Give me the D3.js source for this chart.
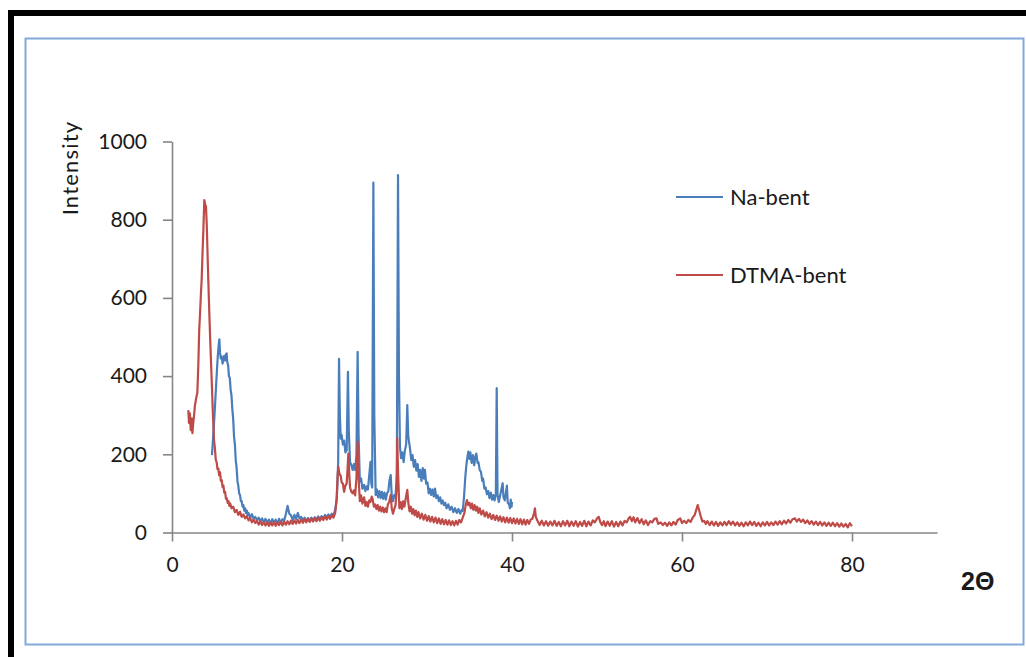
<!DOCTYPE html>
<html>
<head>
<meta charset="utf-8">
<script src="https://cdn.jsdelivr.net/npm/d3@7"></script>
<style>
html,body{margin:0;padding:0;background:#fff;}
svg{display:block;}
text{font-family:Lato,"Open Sans",sans-serif;fill:#1a1a1a;}
</style>
</head>
<body>
<svg id="chart" width="1026" height="657"></svg>
<script>
const xTicks = [0, 20, 40, 60, 80];
const yTicks = [0, 200, 400, 600, 800, 1000];
const seriesNames = ["Na-bent", "DTMA-bent"];

const naBent = [
[4.7,198],[4.8,230],[4.9,265],[5.0,300],[5.1,340],[5.2,380],[5.3,420],[5.4,455],[5.5,480],[5.57,494],[5.65,460],[5.75,445],[5.85,450],[5.95,432],[6.05,441],[6.15,452],[6.25,440],[6.35,456],[6.43,458],[6.5,436],[6.6,428],[6.7,400],[6.8,395],[6.9,365],[7.0,350],[7.1,315],[7.2,290],[7.3,245],[7.4,225],[7.5,185],[7.6,165],[7.7,132],[7.8,120],[7.9,100],[8.0,96],[8.1,80],[8.2,80],[8.3,66],[8.4,70],[8.5,56],[8.6,62],[8.7,50],[8.8,56],[8.9,44],[9.0,50],[9.2,38],[9.4,47],[9.6,35],[9.8,40],[10.0,31],[10.2,38],[10.4,29],[10.6,36],[10.8,26],[11.0,35],[11.2,24],[11.4,33],[11.6,23],[11.8,34],[12.0,24],[12.2,33],[12.4,22],[12.6,35],[12.8,25],[13.0,34],[13.2,30],[13.4,48],[13.6,68],[13.8,48],[14.0,44],[14.2,32],[14.4,45],[14.6,34],[14.8,50],[15.0,36],[15.2,40],[15.4,31],[15.6,38],[15.8,29],[16.0,37],[16.2,30],[16.4,38],[16.6,31],[16.8,39],[17.0,33],[17.2,41],[17.4,35],[17.6,42],[17.8,36],[18.0,45],[18.2,38],[18.4,46],[18.6,40],[18.8,48],[19.0,44],[19.2,58],[19.4,90],[19.55,180],[19.65,444],[19.75,300],[19.85,240],[19.95,250],[20.1,225],[20.25,235],[20.4,205],[20.55,210],[20.7,411],[20.8,260],[20.95,180],[21.1,172],[21.25,160],[21.4,175],[21.55,160],[21.7,200],[21.84,462],[21.95,250],[22.1,130],[22.25,138],[22.4,112],[22.6,122],[22.75,106],[22.9,118],[23.05,110],[23.2,145],[23.35,181],[23.45,125],[23.55,115],[23.69,895],[23.8,300],[23.96,96],[24.1,110],[24.25,90],[24.4,106],[24.55,88],[24.7,104],[24.85,86],[25.0,102],[25.15,84],[25.3,100],[25.45,105],[25.6,135],[25.73,147],[25.85,95],[26.0,80],[26.15,96],[26.3,92],[26.45,150],[26.59,914],[26.7,400],[26.82,219],[26.95,190],[27.1,205],[27.25,180],[27.4,210],[27.55,225],[27.68,326],[27.8,245],[28.0,215],[28.15,185],[28.3,198],[28.45,168],[28.6,185],[28.75,158],[28.9,175],[29.05,142],[29.2,160],[29.35,132],[29.5,165],[29.65,138],[29.76,160],[29.9,125],[30.05,128],[30.2,100],[30.35,112],[30.5,96],[30.65,110],[30.8,92],[30.94,112],[31.1,88],[31.25,95],[31.4,80],[31.55,90],[31.7,74],[31.85,82],[32.0,70],[32.15,76],[32.3,62],[32.5,72],[32.7,58],[32.9,66],[33.1,52],[33.3,62],[33.5,50],[33.7,60],[33.9,48],[34.08,58],[34.2,55],[34.35,90],[34.5,140],[34.6,165],[34.7,185],[34.86,207],[35.0,188],[35.1,205],[35.25,178],[35.4,198],[35.55,172],[35.7,195],[35.8,202],[35.95,178],[36.05,180],[36.2,160],[36.35,155],[36.5,132],[36.6,138],[36.75,112],[36.9,115],[37.05,98],[37.2,106],[37.35,88],[37.5,102],[37.65,84],[37.8,96],[37.95,82],[38.1,98],[38.2,369],[38.3,96],[38.45,78],[38.6,94],[38.75,110],[38.9,126],[39.0,90],[39.15,82],[39.3,104],[39.4,120],[39.5,76],[39.65,72],[39.76,62],[39.85,84],[39.95,66],[40.0,78]
];

const dtmaBent = [
[1.92,313],[2.0,280],[2.1,305],[2.2,262],[2.3,292],[2.4,254],[2.5,280],[2.6,300],[2.7,325],[2.78,335],[2.9,350],[2.98,356],[3.1,430],[3.2,518],[3.3,560],[3.4,610],[3.49,646],[3.6,720],[3.69,774],[3.8,850],[3.9,840],[4.0,833],[4.1,780],[4.16,731],[4.25,660],[4.39,561],[4.5,490],[4.6,430],[4.67,390],[4.8,310],[4.94,237],[5.05,215],[5.15,186],[5.25,180],[5.35,162],[5.45,164],[5.55,146],[5.65,154],[5.75,132],[5.85,134],[5.95,116],[6.05,120],[6.15,102],[6.25,104],[6.35,86],[6.43,88],[6.55,76],[6.65,80],[6.75,68],[6.85,74],[7.0,62],[7.2,66],[7.4,52],[7.6,58],[7.8,45],[8.0,53],[8.2,40],[8.4,46],[8.6,36],[8.8,42],[9.0,31],[9.2,37],[9.4,26],[9.6,33],[9.8,24],[10.0,30],[10.2,20],[10.4,28],[10.6,19],[10.8,27],[11.0,18],[11.2,26],[11.4,17],[11.6,25],[11.8,18],[12.0,27],[12.2,17],[12.4,26],[12.6,19],[12.8,27],[13.0,18],[13.2,28],[13.4,20],[13.6,29],[13.8,21],[14.0,30],[14.2,22],[14.4,31],[14.6,23],[14.8,32],[15.0,24],[15.2,33],[15.4,25],[15.6,34],[15.8,26],[16.0,35],[16.2,27],[16.4,36],[16.6,28],[16.8,37],[17.0,29],[17.2,38],[17.4,30],[17.6,39],[17.8,32],[18.0,41],[18.2,33],[18.4,42],[18.6,35],[18.8,44],[19.0,38],[19.2,50],[19.35,80],[19.5,150],[19.57,168],[19.7,150],[19.85,145],[19.96,128],[20.1,125],[20.25,104],[20.4,120],[20.55,125],[20.65,160],[20.75,202],[20.85,150],[20.95,115],[21.1,104],[21.25,100],[21.4,108],[21.55,95],[21.7,140],[21.84,232],[21.95,140],[22.1,80],[22.25,95],[22.4,74],[22.6,90],[22.75,68],[22.9,78],[23.05,66],[23.2,82],[23.35,78],[23.5,92],[23.6,86],[23.75,66],[23.9,72],[24.05,60],[24.2,70],[24.35,56],[24.5,66],[24.65,54],[24.8,64],[24.95,52],[25.1,62],[25.25,52],[25.4,72],[25.55,78],[25.73,96],[25.85,62],[26.0,48],[26.15,60],[26.3,70],[26.45,120],[26.5,241],[26.6,150],[26.75,62],[26.9,78],[27.05,60],[27.2,80],[27.35,66],[27.5,88],[27.68,109],[27.8,76],[27.95,54],[28.1,66],[28.25,48],[28.4,60],[28.55,44],[28.7,56],[28.85,40],[29.0,52],[29.2,36],[29.4,48],[29.6,33],[29.8,45],[30.0,30],[30.2,42],[30.4,28],[30.6,40],[30.8,26],[31.0,38],[31.2,24],[31.4,36],[31.6,22],[31.8,34],[32.0,21],[32.2,32],[32.4,20],[32.6,31],[32.8,19],[33.0,29],[33.2,18],[33.4,30],[33.6,20],[33.8,32],[34.0,26],[34.2,38],[34.4,50],[34.55,70],[34.7,83],[34.85,70],[35.0,76],[35.15,62],[35.3,74],[35.45,58],[35.6,70],[35.75,56],[35.9,66],[36.05,50],[36.2,62],[36.4,46],[36.6,56],[36.8,41],[37.0,52],[37.2,38],[37.4,48],[37.6,34],[37.8,45],[38.0,32],[38.2,43],[38.4,30],[38.6,41],[38.8,28],[39.0,39],[39.2,26],[39.4,38],[39.6,25],[39.8,37],[40.0,24],[40.2,36],[40.4,23],[40.6,35],[40.8,22],[41.0,34],[41.2,21],[41.4,33],[41.6,20],[41.8,32],[42.0,22],[42.2,33],[42.4,35],[42.6,50],[42.7,62],[42.8,40],[43.0,30],[43.25,19],[43.5,30],[43.75,18],[44.0,29],[44.25,17],[44.5,28],[44.75,18],[45.0,30],[45.25,17],[45.5,27],[45.75,16],[46.0,29],[46.25,18],[46.5,30],[46.75,16],[47.0,28],[47.25,17],[47.5,29],[47.75,15],[48.0,27],[48.25,17],[48.5,30],[48.75,16],[49.0,28],[49.25,18],[49.5,31],[49.75,26],[50.0,36],[50.2,40],[50.4,26],[50.6,19],[50.8,29],[51.0,16],[51.25,28],[51.5,17],[51.75,29],[52.0,15],[52.25,27],[52.5,16],[52.75,28],[53.0,18],[53.25,30],[53.5,26],[53.75,37],[53.9,40],[54.1,29],[54.3,39],[54.5,26],[54.75,37],[55.0,24],[55.25,34],[55.5,21],[55.75,31],[56.0,19],[56.25,29],[56.5,26],[56.75,35],[57.0,36],[57.2,22],[57.5,26],[57.75,19],[58.0,25],[58.25,17],[58.5,26],[58.75,18],[59.0,27],[59.25,20],[59.5,32],[59.8,36],[60.0,24],[60.25,30],[60.5,24],[60.75,32],[61.0,27],[61.25,38],[61.5,45],[61.7,60],[61.85,70],[62.0,58],[62.2,42],[62.4,28],[62.6,30],[62.8,22],[63.0,29],[63.25,19],[63.5,28],[63.75,18],[64.0,27],[64.25,17],[64.5,26],[64.75,18],[65.0,27],[65.25,19],[65.5,29],[65.75,20],[66.0,28],[66.25,18],[66.5,26],[66.75,17],[67.0,25],[67.25,16],[67.5,26],[67.75,18],[68.0,28],[68.25,19],[68.5,27],[68.75,17],[69.0,25],[69.25,16],[69.5,26],[69.75,18],[70.0,27],[70.25,18],[70.5,26],[70.75,19],[71.0,28],[71.25,20],[71.5,29],[71.75,21],[72.0,30],[72.25,23],[72.5,32],[72.75,25],[73.0,34],[73.3,36],[73.5,28],[73.75,35],[74.0,27],[74.25,33],[74.5,24],[74.75,31],[75.0,22],[75.25,29],[75.5,20],[75.75,28],[76.0,19],[76.25,27],[76.5,18],[76.75,26],[77.0,17],[77.25,25],[77.5,17],[77.75,25],[78.0,16],[78.25,24],[78.5,15],[78.75,23],[79.0,15],[79.25,22],[79.5,13],[79.75,24],[80.0,16]
];

const colors = ["#4a7ebb", "#be4b48"];
const svg = d3.select("#chart");

// outer black frame (top & left)
svg.append("rect").attr("x", 8).attr("y", 10).attr("width", 1018).attr("height", 6).attr("fill", "#000");
svg.append("rect").attr("x", 8).attr("y", 10).attr("width", 6).attr("height", 647).attr("fill", "#000");
// inner blue frame
svg.append("rect").attr("x", 25.5).attr("y", 38.5).attr("width", 998).attr("height", 606)
  .attr("fill", "none").attr("stroke", "#82a8dc").attr("stroke-width", 2);

const x = d3.scaleLinear().domain([0, 90]).range([172, 937]);
const y = d3.scaleLinear().domain([0, 1000]).range([532.5, 141.5]);

const axisColor = "#868686";
const gx = svg.append("g").attr("transform", `translate(0,${y(0)})`)
  .call(d3.axisBottom(x).tickValues(xTicks).tickFormat(d3.format("d")).tickSize(9).tickPadding(16).tickSizeOuter(0));
const gy = svg.append("g").attr("transform", `translate(${x(0)},0)`)
  .call(d3.axisLeft(y).tickValues(yTicks).tickFormat(d3.format("d")).tickSize(9).tickPadding(16).tickSizeOuter(0));
[gx, gy].forEach(g => {
  g.select(".domain").attr("stroke", axisColor).attr("stroke-width", 1.6);
  g.selectAll(".tick line").attr("stroke", axisColor).attr("stroke-width", 1.6);
  g.selectAll(".tick text").style("font-family", "Lato, sans-serif").style("font-size", "21px").attr("fill", "#1a1a1a");
});

const line = d3.line().x(d => x(d[0])).y(d => y(d[1]));
[naBent, dtmaBent].forEach((s, i) => {
  svg.append("path").datum(s).attr("d", line).attr("fill", "none")
    .attr("stroke", colors[i]).attr("stroke-width", 2.2).attr("stroke-linejoin", "round");
});

// legend
const legY = [197, 275];
seriesNames.forEach((n, i) => {
  svg.append("line").attr("x1", 676).attr("x2", 723).attr("y1", legY[i]).attr("y2", legY[i])
    .attr("stroke", colors[i]).attr("stroke-width", 2);
  svg.append("text").attr("x", 730).attr("y", legY[i]).attr("dy", "0.35em")
    .style("font-size", "22px").text(n);
});

// axis titles
svg.append("text").attr("transform", "translate(78,168) rotate(-90)")
  .attr("text-anchor", "middle").style("font-size", "22px").style("letter-spacing", "1.2px").text("Intensity");
svg.append("text").attr("x", 961).attr("y", 590)
  .style("font-size", "25px").style("font-weight", "bold")
  .style("font-family", "'Liberation Sans', Arial, sans-serif").text("2Θ");
</script>
</body>
</html>
